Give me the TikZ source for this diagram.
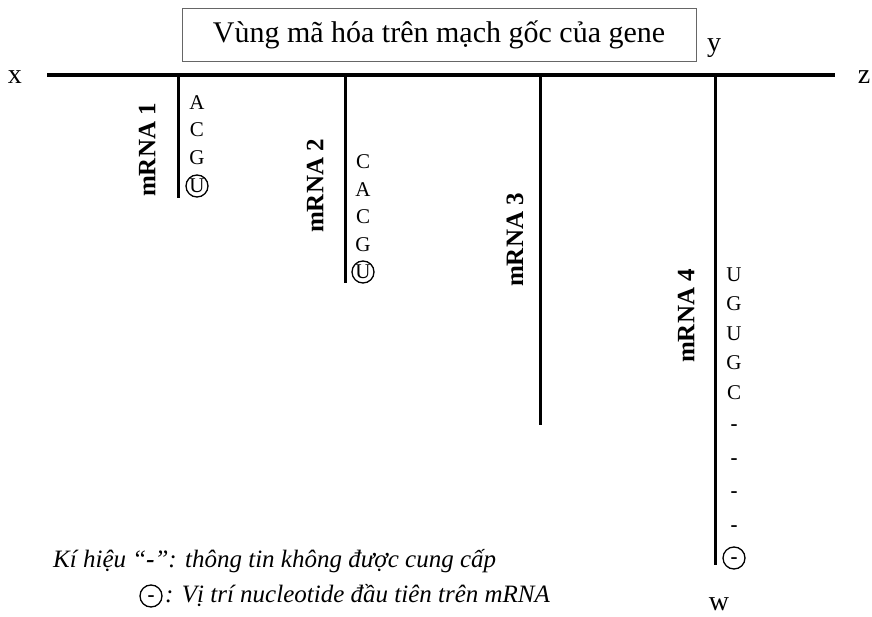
\documentclass[tikz,border=0pt]{standalone}
\usepackage{fontspec}
\setmainfont{Liberation Serif}
\begin{document}
\begin{tikzpicture}[x=1pt,y=-1pt,
  lbl/.style={font=\fontsize{28}{30}\selectfont, inner sep=0, anchor=base},
  nuc/.style={font=\fontsize{21}{22}\selectfont, inner sep=0, text height=14pt, text depth=0pt},
  cnuc/.style={nuc, circle, draw, line width=1.3pt, minimum size=22pt},
  dsh/.style={nuc},
  mrna/.style={font=\bfseries\fontsize{25}{27}\selectfont, rotate=90, inner sep=0},
  strand/.style={line width=4pt},
  branch/.style={line width=3pt},
  legend/.style={font=\itshape\fontsize{25}{27}\selectfont, inner sep=0, anchor=base west}]
\useasboundingbox (0,0) rectangle (872,617);

% title box
\node[draw=black!60, line width=0.8pt, minimum width=514pt, minimum height=53pt,
      font=\fontsize{30}{32}\selectfont, inner sep=0] (title) at (439,35)
      {Vùng mã hóa trên mạch gốc của gene};

% main strand
\coordinate (xl) at (47,75);
\coordinate (xr) at (835,75);
\draw[strand] (xl) -- (xr);
\node[lbl] (lx) at (15,84) {x};
\node[lbl] (lz) at (864,84) {z};
\node[lbl] (ly) at (714,52) {y};
\node[lbl] (lw) at (719,610) {w};

% branches
\coordinate (t1) at (178,75);  \coordinate (b1) at (178,198);
\coordinate (t2) at (345,75);  \coordinate (b2) at (345,283);
\coordinate (t3) at (540,75);  \coordinate (b3) at (540,425);
\coordinate (t4) at (715,75);  \coordinate (b4) at (715,565);
\draw[branch] (t1) -- (b1);
\draw[branch] (t2) -- (b2);
\draw[branch] (t3) -- (b3);
\draw[branch] (t4) -- (b4);

% labels
\node[mrna] (m1) at (147,150) {mRNA 1};
\node[mrna] (m2) at (315,186) {mRNA 2};
\node[mrna] (m3) at (515,240) {mRNA 3};
\node[mrna] (m4) at (686,316) {mRNA 4};

% mRNA 1
\node[nuc] (a1) at (197,103) {A};
\node[nuc] (a2) at (197,130) {C};
\node[nuc] (a3) at (197,158) {G};
\node[cnuc] (a4) at (197,186) {U};

% mRNA 2
\node[nuc] (c1) at (363,162) {C};
\node[nuc] (c2) at (363,190) {A};
\node[nuc] (c3) at (363,217) {C};
\node[nuc] (c4) at (363,245) {G};
\node[cnuc] (c5) at (363,272) {U};

% mRNA 4
\node[nuc] (d1) at (734,275) {U};
\node[nuc] (d2) at (734,304) {G};
\node[nuc] (d3) at (734,333) {U};
\node[nuc] (d4) at (734,362) {G};
\node[nuc] (d5) at (734,392) {C};
\node[dsh] (d6) at (734,423) {\textbf{-}};
\node[dsh] (d7) at (734,457) {\textbf{-}};
\node[dsh] (d8) at (734,490) {\textbf{-}};
\node[dsh] (d9) at (734,524) {\textbf{-}};
\node[cnuc] (d10) at (734,558) {\raisebox{2pt}{\textbf{-}}};

% legend
\node[legend] (leg1) at (53,567) {Kí hiệu “\textbf{-}”: thông tin không được cung cấp};
\node[cnuc] (legc) at (151,596) {\raisebox{2pt}{\textbf{-}}};
\node[legend] (leg2) at (165,602) {: Vị trí nucleotide đầu tiên trên mRNA};
\end{tikzpicture}
\end{document}
